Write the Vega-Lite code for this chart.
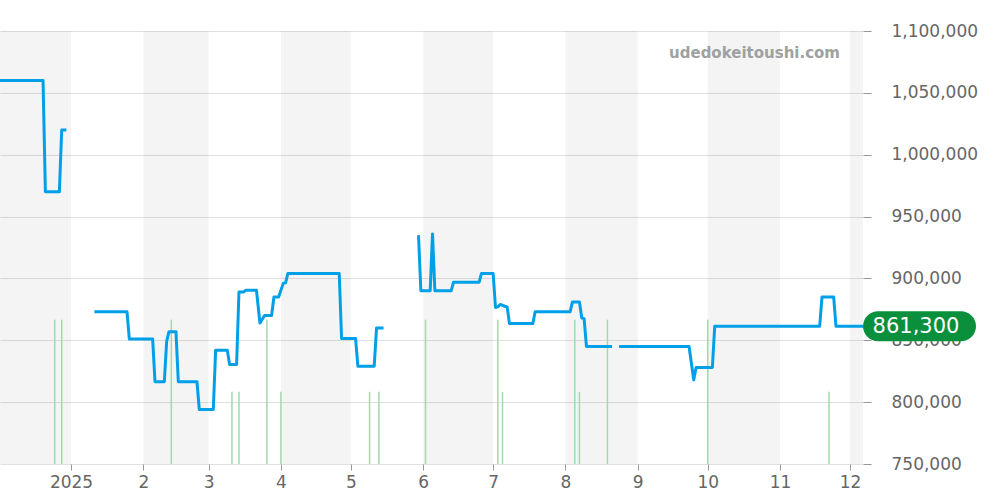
{
  "$schema": "https://vega.github.io/schema/vega-lite/v6.json",
  "width": 863,
  "height": 433,
  "autosize": "none",
  "padding": {"left": 0, "top": 31, "right": 137, "bottom": 36},
  "background": "#ffffff",
  "config": {"view": {"stroke": null}, "font": "DejaVu Sans"},
  "title": {
    "text": "udedokeitoushi.com",
    "anchor": "end",
    "frame": "group",
    "orient": "top",
    "offset": -39,
    "dx": -23,
    "fontSize": 15,
    "fontWeight": "bold",
    "color": "#a0a0a0",
    "font": "DejaVu Sans"
  },
  "datasets": {
    "bands": [
      {"date": "2024-11-01", "end": "2025-01-01"},
      {"date": "2025-02-01", "end": "2025-03-01"},
      {"date": "2025-04-01", "end": "2025-05-01"},
      {"date": "2025-06-01", "end": "2025-07-01"},
      {"date": "2025-08-01", "end": "2025-09-01"},
      {"date": "2025-10-01", "end": "2025-11-01"},
      {"date": "2025-12-01", "end": "2026-01-01"}
    ],
    "volume": [
      {"date": "2024-12-25", "vol": 2},
      {"date": "2024-12-28", "vol": 2},
      {"date": "2025-02-13", "vol": 2},
      {"date": "2025-03-11", "vol": 1},
      {"date": "2025-03-14", "vol": 1},
      {"date": "2025-03-26", "vol": 2},
      {"date": "2025-04-01", "vol": 1},
      {"date": "2025-05-09", "vol": 1},
      {"date": "2025-05-13", "vol": 1},
      {"date": "2025-06-02", "vol": 2},
      {"date": "2025-07-03", "vol": 2},
      {"date": "2025-07-05", "vol": 1},
      {"date": "2025-08-05", "vol": 2},
      {"date": "2025-08-07", "vol": 1},
      {"date": "2025-08-19", "vol": 2},
      {"date": "2025-10-01", "vol": 2},
      {"date": "2025-11-22", "vol": 1}
    ],
    "baseline": [
      {"date": "2024-12-01T13:00:00Z", "end": "2025-12-03"}
    ],
    "price": [
      {"seg": 1, "date": "2024-12-01T13:00:00Z", "price": 1060000},
      {"seg": 1, "date": "2024-12-20", "price": 1060000},
      {"seg": 1, "date": "2024-12-21", "price": 970000},
      {"seg": 1, "date": "2024-12-27", "price": 970000},
      {"seg": 1, "date": "2024-12-28", "price": 1020000},
      {"seg": 1, "date": "2024-12-30", "price": 1020000},
      {"seg": 2, "date": "2025-01-11", "price": 873000},
      {"seg": 2, "date": "2025-01-25", "price": 873000},
      {"seg": 2, "date": "2025-01-26", "price": 851000},
      {"seg": 2, "date": "2025-02-05", "price": 851000},
      {"seg": 2, "date": "2025-02-06", "price": 816500},
      {"seg": 2, "date": "2025-02-10", "price": 816500},
      {"seg": 2, "date": "2025-02-11", "price": 849000},
      {"seg": 2, "date": "2025-02-12", "price": 857000},
      {"seg": 2, "date": "2025-02-15", "price": 857000},
      {"seg": 2, "date": "2025-02-16", "price": 816500},
      {"seg": 2, "date": "2025-02-24", "price": 816500},
      {"seg": 2, "date": "2025-02-25", "price": 794000},
      {"seg": 2, "date": "2025-03-03", "price": 794000},
      {"seg": 2, "date": "2025-03-04", "price": 842000},
      {"seg": 2, "date": "2025-03-09", "price": 842000},
      {"seg": 2, "date": "2025-03-10", "price": 830500},
      {"seg": 2, "date": "2025-03-13", "price": 830500},
      {"seg": 2, "date": "2025-03-14", "price": 889000},
      {"seg": 2, "date": "2025-03-16", "price": 889000},
      {"seg": 2, "date": "2025-03-17", "price": 890500},
      {"seg": 2, "date": "2025-03-21T12:00:00Z", "price": 890500},
      {"seg": 2, "date": "2025-03-23", "price": 864000},
      {"seg": 2, "date": "2025-03-25", "price": 870000},
      {"seg": 2, "date": "2025-03-28", "price": 870000},
      {"seg": 2, "date": "2025-03-29", "price": 885000},
      {"seg": 2, "date": "2025-03-31", "price": 885000},
      {"seg": 2, "date": "2025-04-02", "price": 896000},
      {"seg": 2, "date": "2025-04-03", "price": 896500},
      {"seg": 2, "date": "2025-04-04", "price": 904000},
      {"seg": 2, "date": "2025-04-26", "price": 904000},
      {"seg": 2, "date": "2025-04-27", "price": 851500},
      {"seg": 2, "date": "2025-05-03", "price": 851500},
      {"seg": 2, "date": "2025-05-04", "price": 829000},
      {"seg": 2, "date": "2025-05-11", "price": 829000},
      {"seg": 2, "date": "2025-05-12", "price": 860000},
      {"seg": 2, "date": "2025-05-15", "price": 860000},
      {"seg": 3, "date": "2025-05-30", "price": 935000},
      {"seg": 3, "date": "2025-05-31", "price": 890000},
      {"seg": 3, "date": "2025-06-04", "price": 890000},
      {"seg": 3, "date": "2025-06-05", "price": 936000},
      {"seg": 3, "date": "2025-06-06", "price": 890000},
      {"seg": 3, "date": "2025-06-13", "price": 890000},
      {"seg": 3, "date": "2025-06-14", "price": 897000},
      {"seg": 3, "date": "2025-06-25", "price": 897000},
      {"seg": 3, "date": "2025-06-26", "price": 904000},
      {"seg": 3, "date": "2025-07-01", "price": 904000},
      {"seg": 3, "date": "2025-07-02", "price": 876500},
      {"seg": 3, "date": "2025-07-03", "price": 877000},
      {"seg": 3, "date": "2025-07-04", "price": 879000},
      {"seg": 3, "date": "2025-07-06", "price": 877500},
      {"seg": 3, "date": "2025-07-07", "price": 877000},
      {"seg": 3, "date": "2025-07-08", "price": 863500},
      {"seg": 3, "date": "2025-07-18", "price": 863500},
      {"seg": 3, "date": "2025-07-19", "price": 873000},
      {"seg": 3, "date": "2025-08-03", "price": 873000},
      {"seg": 3, "date": "2025-08-04", "price": 881000},
      {"seg": 3, "date": "2025-08-07", "price": 881000},
      {"seg": 3, "date": "2025-08-08", "price": 868000},
      {"seg": 3, "date": "2025-08-09", "price": 867500},
      {"seg": 3, "date": "2025-08-10", "price": 845000},
      {"seg": 3, "date": "2025-08-21", "price": 845000},
      {"seg": 4, "date": "2025-08-24", "price": 845000},
      {"seg": 4, "date": "2025-09-23", "price": 845000},
      {"seg": 4, "date": "2025-09-25", "price": 818000},
      {"seg": 4, "date": "2025-09-26", "price": 828000},
      {"seg": 4, "date": "2025-10-03", "price": 828000},
      {"seg": 4, "date": "2025-10-04", "price": 861300},
      {"seg": 4, "date": "2025-11-18", "price": 861300},
      {"seg": 4, "date": "2025-11-19", "price": 885000},
      {"seg": 4, "date": "2025-11-24", "price": 885000},
      {"seg": 4, "date": "2025-11-25", "price": 861300},
      {"seg": 4, "date": "2025-12-06T14:00:00Z", "price": 861300}
    ],
    "last": [
      {"date": "2025-12-06T14:00:00Z", "price": 861300, "label": "861,300"}
    ]
  },
  "encoding": {
    "x": {
      "field": "date",
      "type": "temporal",
      "scale": {
        "type": "utc",
        "domain": [
          {"year": 2024, "month": 12, "date": 1, "hours": 13, "utc": true},
          {"year": 2025, "month": 12, "date": 6, "hours": 14, "utc": true}
        ]
      },
      "axis": {
        "title": null,
        "grid": false,
        "domain": false,
        "tickColor": "#999999",
        "tickSize": 6,
        "labelColor": "#666666",
        "labelFontSize": 17,
        "labelFont": "DejaVu Sans",
        "labelPadding": 4,
        "labelFlush": false,
        "labelOverlap": false,
        "values": [
          {"year": 2025, "month": 1, "date": 1, "utc": true},
          {"year": 2025, "month": 2, "date": 1, "utc": true},
          {"year": 2025, "month": 3, "date": 1, "utc": true},
          {"year": 2025, "month": 4, "date": 1, "utc": true},
          {"year": 2025, "month": 5, "date": 1, "utc": true},
          {"year": 2025, "month": 6, "date": 1, "utc": true},
          {"year": 2025, "month": 7, "date": 1, "utc": true},
          {"year": 2025, "month": 8, "date": 1, "utc": true},
          {"year": 2025, "month": 9, "date": 1, "utc": true},
          {"year": 2025, "month": 10, "date": 1, "utc": true},
          {"year": 2025, "month": 11, "date": 1, "utc": true},
          {"year": 2025, "month": 12, "date": 1, "utc": true}
        ],
        "labelExpr": "utcmonth(datum.value) === 0 ? '' + utcyear(datum.value) : '' + (utcmonth(datum.value) + 1)"
      }
    }
  },
  "resolve": {"scale": {"y": "independent"}},
  "layer": [
    {
      "data": {"name": "bands"},
      "mark": {"type": "rect", "fill": "#000000", "opacity": 0.042, "clip": true},
      "encoding": {"x2": {"field": "end"}}
    },
    {
      "data": {"name": "volume"},
      "mark": {"type": "rule", "color": "#a3d8a8", "strokeWidth": 1.5},
      "encoding": {
        "y": {"field": "vol", "type": "quantitative", "scale": {"domain": [0, 6], "nice": false}, "axis": null},
        "y2": {"datum": 0}
      }
    },
    {
      "encoding": {
        "y": {
          "field": "price",
          "type": "quantitative",
          "scale": {"domain": [750000, 1100000], "nice": false, "zero": false},
          "axis": {
            "orient": "right",
            "title": null,
            "values": [750000, 800000, 850000, 900000, 950000, 1000000, 1050000, 1100000],
            "format": ",.0f",
            "grid": true,
            "gridColor": "#e0e0e0",
            "domain": false,
            "tickColor": "#999999",
            "tickSize": 8,
            "labelPadding": 20,
            "labelColor": "#666666",
            "labelFontSize": 17,
            "labelFont": "DejaVu Sans"
          }
        }
      },
      "layer": [
        {
          "data": {"name": "baseline"},
          "mark": {"type": "rule", "color": "#a3d8a8", "strokeWidth": 1.5, "strokeDash": [1, 1]},
          "encoding": {"x2": {"field": "end"}, "y": {"datum": 750000}}
        },
        {
          "data": {"name": "price"},
          "mark": {"type": "line", "color": "#00a0e9", "strokeWidth": 3, "strokeJoin": "round"},
          "encoding": {"detail": {"field": "seg", "type": "nominal"}}
        },
        {
          "data": {"name": "last"},
          "mark": {
            "type": "point",
            "shape": "M 0.2655 -0.2655 L 1.7345 -0.2655 A 0.2655 0.2655 0 0 1 1.7345 0.2655 L 0.2655 0.2655 A 0.2655 0.2655 0 0 1 0.2655 -0.2655 Z",
            "size": 12769,
            "filled": true,
            "fill": "#0a8f3c",
            "opacity": 1,
            "strokeWidth": 0
          }
        },
        {
          "data": {"name": "last"},
          "mark": {"type": "text", "color": "#ffffff", "fontSize": 21, "font": "DejaVu Sans", "align": "center", "baseline": "middle", "dx": 53, "dy": 1},
          "encoding": {"text": {"field": "label"}}
        }
      ]
    }
  ]
}
